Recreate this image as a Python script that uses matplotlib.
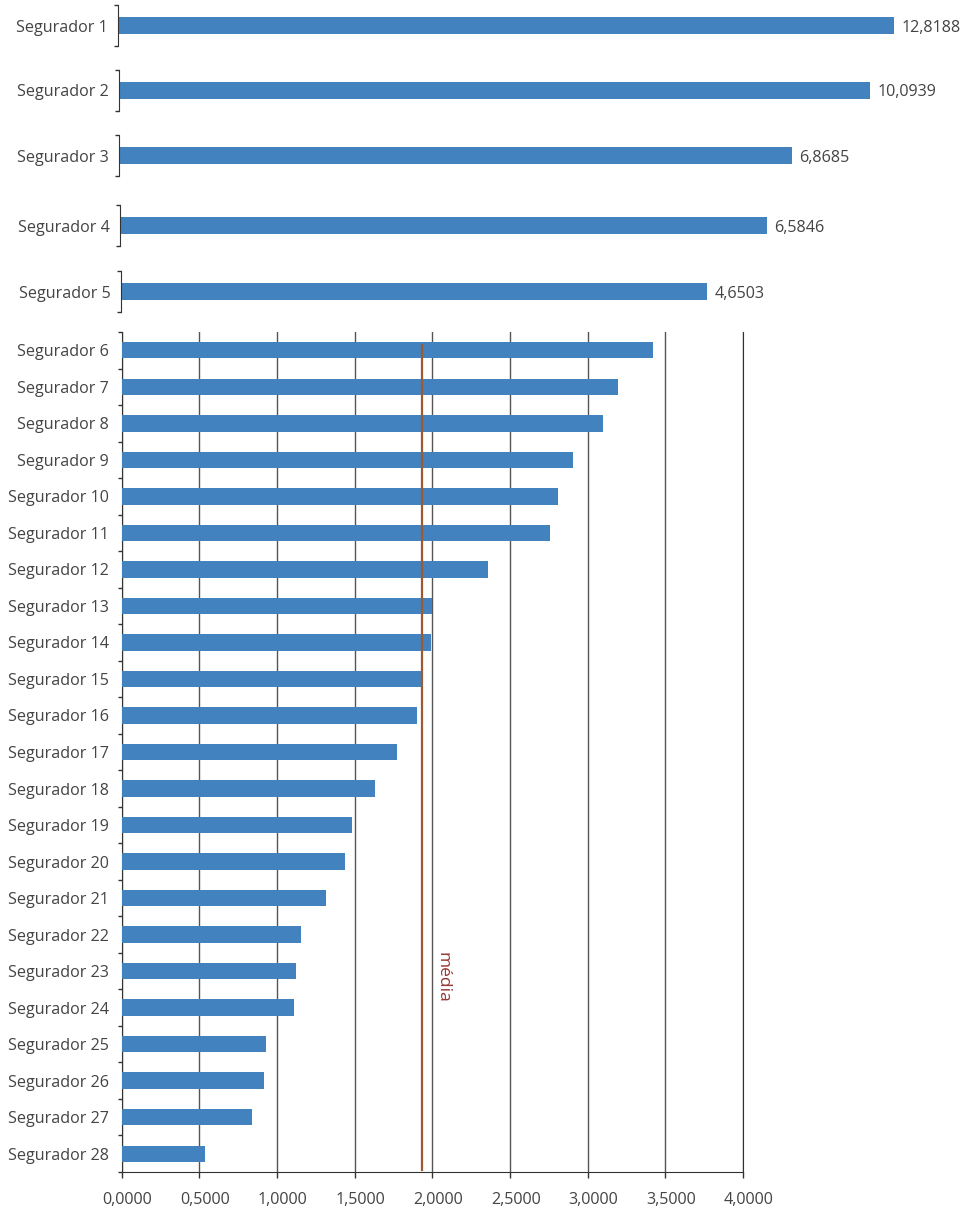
import numpy as np
import matplotlib.pyplot as plt
from matplotlib.ticker import FuncFormatter
from matplotlib.transforms import ScaledTranslation

plt.rcParams['font.family'] = ['Open Sans', 'DejaVu Sans']

# five largest insurers, each shown on its own strip
top_names = ['Segurador 1', 'Segurador 2', 'Segurador 3', 'Segurador 4', 'Segurador 5']
top_values = [12.8188, 10.0939, 6.8685, 6.5846, 4.6503]

# remaining insurers on a common 0-4 scale
names = ['Segurador 6', 'Segurador 7', 'Segurador 8', 'Segurador 9', 'Segurador 10',
         'Segurador 11', 'Segurador 12', 'Segurador 13', 'Segurador 14', 'Segurador 15',
         'Segurador 16', 'Segurador 17', 'Segurador 18', 'Segurador 19', 'Segurador 20',
         'Segurador 21', 'Segurador 22', 'Segurador 23', 'Segurador 24', 'Segurador 25',
         'Segurador 26', 'Segurador 27', 'Segurador 28']
values = [3.422, 3.197, 3.100, 2.903, 2.809, 2.755, 2.356, 1.998, 1.990, 1.931,
          1.901, 1.773, 1.630, 1.484, 1.436, 1.316, 1.157, 1.123, 1.112, 0.929,
          0.915, 0.842, 0.535]
media = 1.935

W, H = 961, 1212
fig = plt.figure(figsize=(W / 100, H / 100), dpi=100)


def px_axes(left, top, right, bottom):
    return fig.add_axes([left / W, 1 - bottom / H, (right - left) / W, (bottom - top) / H])


def fmt(v):
    return f'{v:.4f}'.replace('.', ',')


bar_color = '#4282bf'
text_color = '#444444'
line_color = '#333333'
fs = 11.6

# strip boxes (left, top, bottom) and the x limit each strip uses
top_boxes = [(117.5, 5, 46), (118.5, 70, 110.5), (118.5, 135, 176), (120, 205, 246), (120.5, 271, 312)]
top_xmax = [13.58, 11.04, 8.38, 8.35, 6.50]

for name, val, (left, top, bottom), xmax in zip(top_names, top_values, top_boxes, top_xmax):
    ax = px_axes(left, top, 940, bottom)
    ax.barh([0], [val], height=0.415, color=bar_color)
    ax.set_xlim(0, xmax)
    ax.set_ylim(-0.5, 0.5)
    ax.set_yticks([0], [name])
    ax.set_yticks([-0.5, 0.5], minor=True)
    ax.tick_params(axis='y', which='major', length=0, pad=7, labelsize=fs, labelcolor=text_color)
    ax.tick_params(axis='y', which='minor', length=3, width=1, color=line_color)
    ax.set_xticks([])
    for s in ['top', 'right', 'bottom']:
        ax.spines[s].set_visible(False)
    ax.spines['left'].set_color(line_color)
    ax.annotate(fmt(val), (val, 0), xytext=(5.5, -1.5), textcoords='offset points',
                va='center', ha='left', fontsize=fs, color=text_color)

# main panel
ax = px_axes(121.5, 332, 743, 1172)
y = np.arange(len(names))
ax.barh(y, values, height=0.45, color=bar_color, zorder=3)
ax.set_ylim(len(names) - 0.5, -0.5)
ax.set_xlim(0, 4)
ax.set_xticks(np.arange(0, 4.01, 0.5))
ax.xaxis.set_major_formatter(FuncFormatter(lambda v, p: fmt(v)))
ax.set_yticks(y, names)
ax.set_yticks(np.arange(-0.5, len(names), 1), minor=True)
ax.tick_params(axis='y', which='major', length=0, pad=9, labelsize=fs, labelcolor=text_color)
ax.tick_params(axis='y', which='minor', length=3, width=1, color=line_color)
ax.tick_params(axis='x', length=4.5, width=1, pad=10, labelsize=fs, labelcolor=text_color, color=line_color)
shift = ScaledTranslation(6 / 100, 0, fig.dpi_scale_trans)
for lab in ax.get_xticklabels():
    lab.set_transform(lab.get_transform() + shift)
ax.grid(axis='x', color='#555555', linewidth=1, zorder=0)
ax.set_axisbelow(True)
ax.spines['top'].set_visible(False)
for s in ['left', 'bottom', 'right']:
    ax.spines[s].set_color(line_color)

ax.axvline(media, ymin=0.002, ymax=0.985, color='#9b5a34', lw=1.6, zorder=4)
ax.text(2.065, 17.18, 'média', rotation=-90, ha='center', va='center',
        fontsize=12.5, color='#953735')

fig.savefig('out.png', dpi=100)
